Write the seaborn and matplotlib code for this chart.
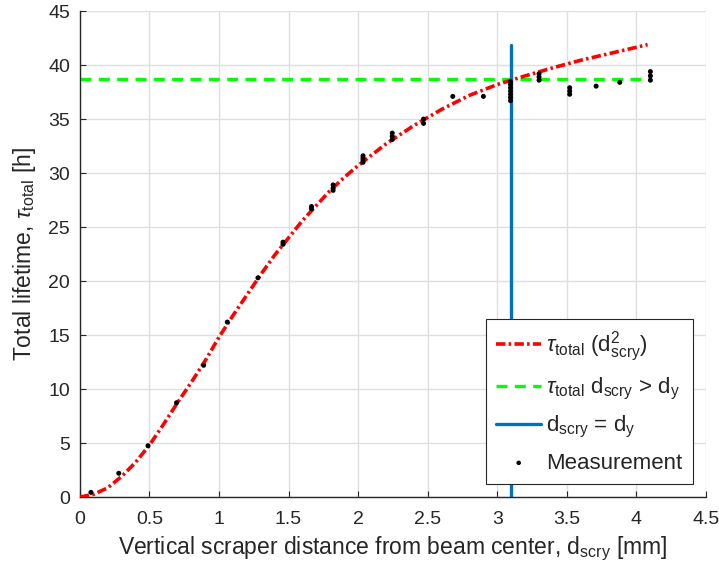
import numpy as np
import pandas as pd
import matplotlib
matplotlib.use("Agg")
import matplotlib.pyplot as plt
import seaborn as sns

# fitted lifetime curve
d_fit = [0, 0.1, 0.2, 0.3, 0.4, 0.5, 0.6, 0.7, 0.8, 0.9, 1.0, 1.1, 1.2, 1.3, 1.4,
         1.5, 1.6, 1.7, 1.8, 1.9, 2.0, 2.2, 2.4, 2.6, 2.8, 3.0, 3.2, 3.4, 3.6,
         3.8, 4.0, 4.08]
tau_fit = [0, 0.25, 0.85, 1.9, 3.2, 4.8, 6.7, 8.7, 10.6, 12.6, 14.8, 16.8, 18.7,
           20.6, 22.4, 24.0, 25.6, 27.0, 28.4, 29.6, 30.7, 32.7, 34.4, 35.9,
           37.2, 38.2, 39.0, 39.75, 40.45, 41.05, 41.65, 41.9]

# measurements
d_meas = [0.08, 0.28, 0.49, 0.695, 0.89, 1.06, 1.28,
          1.46, 1.46, 1.665, 1.665, 1.82, 1.82, 1.82,
          2.035, 2.035, 2.035, 2.035, 2.245, 2.245, 2.245, 2.47, 2.47,
          2.68, 2.9,
          3.095, 3.095, 3.095, 3.095, 3.095, 3.095, 3.095,
          3.3, 3.3, 3.3, 3.52, 3.52, 3.52, 3.71, 3.88, 4.1, 4.1, 4.1]
tau_meas = [0.43, 2.2, 4.75, 8.73, 12.2, 16.2, 20.3,
            23.4, 23.6, 26.7, 26.9, 28.4, 28.6, 28.9,
            31.0, 31.2, 31.4, 31.6, 33.1, 33.4, 33.7, 34.6, 35.0,
            37.1, 37.1,
            36.7, 37.0, 37.3, 37.6, 37.9, 38.2, 38.45,
            38.6, 38.9, 39.2, 37.3, 37.6, 37.9, 38.05, 38.4, 38.6, 39.0, 39.4]

tau_sat = 38.7
d_sat_x = [0, 4.1]
d_y = 3.095
d_y_top = 41.9

sns.set_theme(style="whitegrid")
plt.rcParams['font.family'] = ['Liberation Sans', 'DejaVu Sans']
plt.rcParams['mathtext.fontset'] = 'custom'
plt.rcParams['mathtext.rm'] = 'Liberation Sans'
plt.rcParams['mathtext.it'] = 'Liberation Sans:italic'
plt.rcParams['mathtext.bf'] = 'Liberation Sans:bold'

fig = plt.figure(figsize=(7.19, 5.69), dpi=100)
ax = fig.add_axes([0.111, 0.1265, 0.871, 0.854])

fit_df = pd.DataFrame({'d': d_fit, 'tau': tau_fit})
meas_df = pd.DataFrame({'d': d_meas, 'tau': tau_meas})

sns.lineplot(data=fit_df, x='d', y='tau', ax=ax, color='#ff0000', linewidth=2.6,
             label=r'$\tau_{\rm total}$ (d$^{2}_{\rm scry}$)', zorder=3)
ax.lines[-1].set_linestyle((0, (2.6, 0.9, 0.7, 0.9)))
ax.plot(d_sat_x, [tau_sat, tau_sat], color='#00ff00', linewidth=2.4,
        linestyle=(0, (3.3, 2.2)),
        label=r'$\tau_{\rm total}$ d$_{\rm scry}$ > d$_{\rm y}$', zorder=2)
ax.plot([d_y, d_y], [0, d_y_top], color='#0072bd', linewidth=2.4,
        label=r'd$_{\rm scry}$ = d$_{\rm y}$', zorder=2)
sns.scatterplot(data=meas_df, x='d', y='tau', ax=ax, color='black', s=13,
                edgecolor='none', label='Measurement', zorder=4)

ax.set_xlim(0, 4.5)
ax.set_ylim(0, 45)
ax.set_xticks(np.arange(0, 4.51, 0.5))
ax.set_xticklabels(['0', '0.5', '1', '1.5', '2', '2.5', '3', '3.5', '4', '4.5'])
ax.set_yticks(np.arange(0, 46, 5))

ax.set_facecolor('white')
ax.grid(True, color='#dfdfdf', linewidth=1.0)
for s in ['top', 'right']:
    ax.spines[s].set_visible(False)
for s in ['left', 'bottom']:
    ax.spines[s].set_color('#262626')
    ax.spines[s].set_linewidth(1.0)
ax.tick_params(direction='in', length=4, width=0.8, colors='#262626',
               labelsize=14, labelcolor='#262626', pad=7,
               left=True, bottom=True)
ax.tick_params(axis='x', pad=10)

ax.set_xlabel(r'Vertical scraper distance from beam center, d$_{\rm scry}$ [mm]',
              fontsize=16.5, color='#262626', labelpad=5)
ax.set_ylabel(r'Total lifetime, $\tau_{\rm total}$ [h]',
              fontsize=16.5, color='#262626', labelpad=7)

leg = ax.legend(loc='lower right', fontsize=16, frameon=True, fancybox=False,
                edgecolor='#262626', framealpha=1, borderpad=0.45,
                labelspacing=0.55, handlelength=2.0, handletextpad=0.25,
                borderaxespad=0.6, markerscale=0.9)
leg.get_frame().set_linewidth(0.8)

fig.savefig('out.png', dpi=100)
